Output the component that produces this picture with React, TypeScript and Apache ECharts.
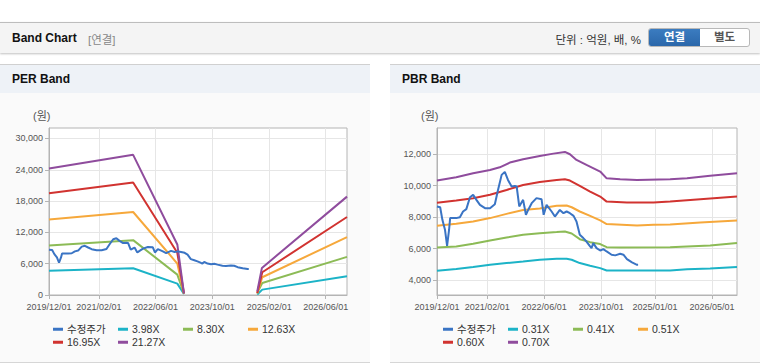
import React, { useEffect, useRef } from 'react';
import * as echarts from 'echarts';

// ---------- data ----------
const PRICE_NAME = '수정주가';

const adjPrice: [string, number][] = [
  ['2019-12-01', 8680], ['2019-12-28', 8630], ['2020-01-16', 7830], ['2020-02-07', 7200],
  ['2020-02-25', 6180], ['2020-03-13', 7200], ['2020-03-22', 7940], ['2020-05-13', 7940],
  ['2020-06-13', 8000], ['2020-07-10', 8360], ['2020-08-07', 8510], ['2020-09-07', 9270],
  ['2020-10-04', 9420], ['2020-11-01', 9100], ['2020-12-01', 8780], ['2021-01-13', 8570],
  ['2021-02-25', 8570], ['2021-04-07', 8820], ['2021-05-04', 9730], ['2021-06-04', 10690],
  ['2021-07-01', 10880], ['2021-07-28', 10370], ['2021-08-28', 9950], ['2021-09-25', 9990],
  ['2021-10-10', 9950], ['2021-11-01', 8680], ['2021-12-04', 9100], ['2021-12-28', 8150],
  ['2022-01-16', 8460], ['2022-02-15', 8890], ['2022-03-28', 9210], ['2022-05-10', 9140],
  ['2022-05-28', 8150], ['2022-06-22', 8780], ['2022-08-04', 8360], ['2022-09-01', 8040],
  ['2022-10-13', 8460], ['2022-11-13', 8250], ['2022-12-10', 8360], ['2023-01-07', 8250],
  ['2023-02-07', 8080], ['2023-03-04', 7720], ['2023-04-01', 6880], ['2023-05-01', 6670],
  ['2023-05-28', 6450], ['2023-06-28', 6140], ['2023-07-10', 6030], ['2023-07-25', 6350],
  ['2023-08-22', 6030], ['2023-09-22', 5880], ['2023-10-19', 5970], ['2023-11-16', 5820],
  ['2023-12-28', 5610], ['2024-01-28', 5570], ['2024-03-10', 5670], ['2024-04-07', 5610],
  ['2024-05-07', 5330], ['2024-06-19', 5120], ['2024-08-01', 4970], ['2024-08-10', 4970],
];

// PER bands (null = no data gap)
const per398: [string, number | null][] = [
  ['2019-12-01', 4650], ['2021-11-22', 5130], ['2022-12-06', 2180], ['2023-02-01', 200],
  ['2024-01-01', null], ['2024-10-22', 100], ['2024-12-04', 1030], ['2026-12-01', 3590],
];
const per830: [string, number | null][] = [
  ['2019-12-01', 9490], ['2021-11-22', 10510], ['2022-12-06', 3910], ['2023-02-01', 300],
  ['2024-01-01', null], ['2024-10-22', 400], ['2024-12-04', 2310], ['2026-12-01', 7310],
];
const per1263: [string, number | null][] = [
  ['2019-12-01', 14490], ['2021-11-22', 15900], ['2022-12-06', 6030], ['2023-02-01', 300],
  ['2024-01-01', null], ['2024-10-22', 300], ['2024-12-04', 3400], ['2026-12-01', 11090],
];
const per1695: [string, number | null][] = [
  ['2019-12-01', 19490], ['2021-11-22', 21540], ['2022-12-06', 8080], ['2023-02-01', 300],
  ['2024-01-01', null], ['2024-10-22', 400], ['2024-12-04', 4360], ['2026-12-01', 14940],
];
const per2127: [string, number | null][] = [
  ['2019-12-01', 24230], ['2021-11-22', 26860], ['2022-12-06', 9680], ['2023-02-01', 300],
  ['2024-01-01', null], ['2024-10-22', 700], ['2024-12-01', 5190], ['2026-12-01', 18850],
];

// PBR bands
const pbr031: [string, number][] = [
  ['2019-12-01', 4590], ['2020-05-13', 4700], ['2020-10-04', 4830], ['2021-02-25', 4970],
  ['2021-07-16', 5080], ['2021-12-04', 5180], ['2022-04-25', 5290], ['2022-09-16', 5350],
  ['2022-12-10', 5350], ['2023-01-22', 5290], ['2023-04-01', 5080], ['2023-06-28', 4910],
  ['2023-09-22', 4760], ['2023-11-16', 4610], ['2025-05-10', 4610], ['2025-10-01', 4680],
  ['2026-04-16', 4740], ['2026-12-01', 4830],
];
const pbr041: [string, number][] = [
  ['2019-12-01', 6070], ['2020-05-13', 6140], ['2020-10-04', 6310], ['2021-02-25', 6520],
  ['2021-07-16', 6710], ['2021-12-04', 6880], ['2022-04-25', 6980], ['2022-09-16', 7050],
  ['2022-11-25', 7090], ['2023-01-22', 6960], ['2023-04-01', 6600], ['2023-06-28', 6410],
  ['2023-09-22', 6290], ['2023-11-16', 6090], ['2024-03-10', 6070], ['2025-05-10', 6090],
  ['2025-10-01', 6140], ['2026-04-16', 6200], ['2026-12-01', 6350],
];
const pbr051: [string, number][] = [
  ['2019-12-01', 7450], ['2020-05-13', 7580], ['2020-10-04', 7720], ['2021-02-25', 7940],
  ['2021-07-16', 8210], ['2021-12-04', 8460], ['2022-04-25', 8550], ['2022-09-16', 8720],
  ['2022-12-10', 8740], ['2023-01-22', 8630], ['2023-04-01', 8360], ['2023-06-28', 8080],
  ['2023-09-22', 7790], ['2023-11-16', 7560], ['2024-08-01', 7470], ['2024-12-19', 7510],
  ['2025-05-10', 7530], ['2026-01-22', 7660], ['2026-12-01', 7790],
];
const pbr060: [string, number][] = [
  ['2019-12-01', 8910], ['2020-05-13', 9060], ['2020-10-04', 9205], ['2021-02-25', 9420],
  ['2021-07-16', 9730], ['2021-12-04', 10050], ['2022-04-25', 10240], ['2022-09-16', 10370],
  ['2022-11-25', 10410], ['2023-01-07', 10330], ['2023-04-01', 9990], ['2023-06-28', 9630],
  ['2023-09-22', 9310], ['2023-11-16', 8990], ['2024-05-07', 8930], ['2024-12-19', 8930],
  ['2025-05-10', 8990], ['2026-01-22', 9140], ['2026-12-01', 9310],
];
const pbr070: [string, number][] = [
  ['2019-12-01', 10330], ['2020-05-13', 10540], ['2020-10-04', 10790], ['2021-02-25', 11000],
  ['2021-05-19', 11170], ['2021-08-13', 11470], ['2021-12-04', 11680], ['2022-04-25', 11890],
  ['2022-08-19', 12040], ['2022-11-25', 12150], ['2023-01-07', 12000], ['2023-03-04', 11640],
  ['2023-05-28', 11320], ['2023-09-22', 10900], ['2023-11-16', 10470], ['2024-03-10', 10410],
  ['2024-08-01', 10370], ['2025-05-10', 10410], ['2025-10-01', 10470], ['2026-04-16', 10640],
  ['2026-12-01', 10790],
];

const perNames = ['3.98X', '8.30X', '12.63X', '16.95X', '21.27X'];
const pbrNames = ['0.31X', '0.41X', '0.51X', '0.60X', '0.70X'];

const perXLabels = ['2019-12-01', '2021-02-01', '2022-06-01', '2023-10-01', '2025-02-01', '2026-06-01'];
const pbrXLabels = ['2019-12-01', '2021-02-01', '2022-06-01', '2023-10-01', '2025-01-01', '2026-05-01'];
const perYTicks = [0, 6000, 12000, 18000, 24000, 30000];
const pbrYTicks = [4000, 6000, 8000, 10000, 12000];

const X_START = '2019-12-01';
const X_END = '2026-12-01';

// ---------- styling ----------
const FONT = '"Liberation Sans", Arial, "Noto Sans CJK KR", sans-serif';
const PRICE_COLOR = '#3a74c4';
const BAND_COLORS = ['#1cb3c7', '#8cbb56', '#f6a83b', '#d13330', '#8f4c9d'];

const ts = (s: string) => {
  const [y, m, d] = s.split('-').map(Number);
  return new Date(y, m - 1, d).getTime();
};
const pad = (n: number) => (n < 10 ? '0' + n : '' + n);
const fmtDate = (v: number) => {
  const d = new Date(v);
  return `${d.getFullYear()}/${pad(d.getMonth() + 1)}/${pad(d.getDate())}`;
};
const toPts = (arr: [string, number | null][]) => arr.map(([d, v]) => [ts(d), v === null ? '-' : v]);

function buildOption(cfg: {
  names: string[];
  bands: [string, number | null][][];
  xLabels: string[];
  yTicks: number[];
  yMin: number;
  yMax: number;
  gridLeft: number;
  gridWidth: number;
}) {
  const legendPos = [
    [53, 231], [118, 231], [183, 231], [248, 231], [53, 244], [118, 244],
  ];
  const allNames = [PRICE_NAME, ...cfg.names];
  const xTickVals = cfg.xLabels.map(ts);
  return {
    animation: false,
    textStyle: { fontFamily: FONT },
    grid: {
      left: cfg.gridLeft,
      top: 35,
      width: cfg.gridWidth,
      height: 167,
      show: true,
      backgroundColor: '#ffffff',
      borderColor: '#b4b4b4',
      borderWidth: 1,
    },
    legend: allNames.map((n, i) => ({
      data: [n],
      left: legendPos[i][0],
      top: legendPos[i][1],
      padding: 0,
      icon: 'rect',
      itemWidth: 10,
      itemHeight: 3,
      itemGap: 0,
      selectedMode: false,
      textStyle: { color: '#333', fontSize: 10.5, fontFamily: FONT, padding: [0, 0, 0, -1] },
    })),
    graphic: [
      {
        type: 'text',
        left: cfg.gridLeft - 16,
        top: 17,
        style: { text: '(원)', fill: '#555', font: `11px ${FONT}` },
      },
    ],
    xAxis: {
      type: 'value',
      min: ts(X_START),
      max: ts(X_END),
      axisLine: { lineStyle: { color: '#b4b4b4' } },
      axisTick: { show: true, length: 4, lineStyle: { color: '#b4b4b4' }, customValues: xTickVals },
      axisLabel: {
        customValues: xTickVals,
        formatter: (v: number) => fmtDate(v),
        color: '#555',
        fontSize: 9,
        margin: 7,
        fontFamily: FONT,
      },
      splitLine: { show: true, lineStyle: { color: '#e6e6e6' } },
    },
    yAxis: {
      type: 'value',
      min: cfg.yMin,
      max: cfg.yMax,
      axisLine: { show: true, lineStyle: { color: '#b4b4b4' } },
      axisTick: { show: true, length: 4, lineStyle: { color: '#b4b4b4' }, customValues: cfg.yTicks },
      axisLabel: {
        customValues: cfg.yTicks,
        formatter: (v: number) => v.toLocaleString('en-US'),
        color: '#555',
        fontSize: 9,
        margin: 6,
        fontFamily: FONT,
      },
      splitLine: { show: true, lineStyle: { color: '#e6e6e6' } },
    },
    series: [
      {
        name: PRICE_NAME,
        type: 'line',
        data: toPts(adjPrice),
        showSymbol: false,
        itemStyle: { color: PRICE_COLOR },
        lineStyle: { color: PRICE_COLOR, width: 2 },
        z: 3,
      },
      ...cfg.bands.map((b, i) => ({
        name: cfg.names[i],
        type: 'line',
        data: toPts(b),
        showSymbol: false,
        connectNulls: false,
        itemStyle: { color: BAND_COLORS[i] },
        lineStyle: { color: BAND_COLORS[i], width: 2 },
        z: 2,
      })),
    ],
  };
}

function EChart({ option, style }: { option: any; style: React.CSSProperties }) {
  const ref = useRef<HTMLDivElement>(null);
  useEffect(() => {
    if (!ref.current) return;
    const chart = echarts.init(ref.current, undefined, { renderer: 'svg' });
    chart.setOption(option);
    return () => chart.dispose();
  }, [option]);
  return <div ref={ref} style={style} />;
}

const perOption = buildOption({
  names: perNames,
  bands: [per398, per830, per1263, per1695, per2127],
  xLabels: perXLabels,
  yTicks: perYTicks,
  yMin: 0,
  yMax: 32000,
  gridLeft: 49,
  gridWidth: 298,
});

const pbrOption = buildOption({
  names: pbrNames,
  bands: [pbr031, pbr041, pbr051, pbr060, pbr070],
  xLabels: pbrXLabels,
  yTicks: pbrYTicks,
  yMin: 3050,
  yMax: 13670,
  gridLeft: 47,
  gridWidth: 300,
});

function Panel({ left, title, option }: { left: number; title: string; option: any }) {
  return (
    <div style={{ position: 'absolute', left, top: 64, width: 370, height: 299, background: '#fafafa', borderTop: '1px solid #d0d0d0', borderBottom: '1px solid #d6d6d6', boxSizing: 'border-box' }}>
      <div style={{ position: 'absolute', left: 0, top: 0, width: 370, height: 28, background: '#eef2f7' }}>
        <span style={{ position: 'absolute', left: 12, top: 7, fontSize: 12, fontWeight: 700, color: '#111', fontFamily: FONT }}>{title}</span>
      </div>
      <EChart option={option} style={{ position: 'absolute', left: 0, top: 28, width: 370, height: 269 }} />
    </div>
  );
}

export default function App() {
  return (
    <div style={{ position: 'absolute', left: 0, top: 0, width: 760, height: 364, background: '#fff', overflow: 'hidden', fontFamily: FONT }}>
      <div style={{ position: 'absolute', left: 0, top: 22, width: 760, height: 31, background: '#f4f4f4', borderTop: '1px solid #bdbdbd', boxSizing: 'border-box', boxShadow: '0 1px 2px rgba(0,0,0,0.25)' }}>
        <span style={{ position: 'absolute', left: 12, top: 8, fontSize: 12, fontWeight: 700, color: '#111' }}>Band Chart</span>
        <span style={{ position: 'absolute', left: 88, top: 8, fontSize: 11.5, color: '#888' }}>[연결]</span>
        <span style={{ position: 'absolute', right: 119, top: 8, fontSize: 11.5, color: '#333' }}>단위 : 억원, 배, %</span>
        <div style={{ position: 'absolute', left: 648, top: 5, width: 102, height: 19, border: '1px solid #b8b8b8', borderRadius: 3, overflow: 'hidden', boxSizing: 'border-box', display: 'flex', background: '#fff' }}>
          <div style={{ width: 51, height: '100%', background: 'linear-gradient(#3b7cc0, #2b67aa)', color: '#fff', fontSize: 11.5, fontWeight: 700, textAlign: 'center', lineHeight: '17px' }}>연결</div>
          <div style={{ flex: 1, height: '100%', color: '#555', fontSize: 11.5, fontWeight: 700, textAlign: 'center', lineHeight: '17px' }}>별도</div>
        </div>
      </div>
      <Panel left={0} title="PER Band" option={perOption} />
      <Panel left={390} title="PBR Band" option={pbrOption} />
    </div>
  );
}
